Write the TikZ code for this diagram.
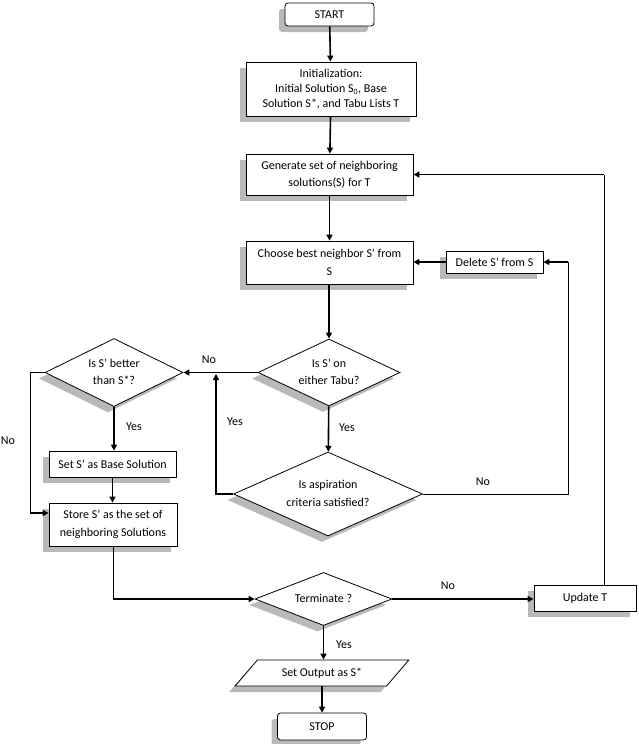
\documentclass[tikz,border=0pt]{standalone}
\usepackage{fontspec}
\setmainfont{Carlito}
\usetikzlibrary{shapes.geometric,shadows,arrows.meta}
\newcommand{\dtext}[1]{\smash{\raisebox{-0.25em}{\makebox[0pt]{\begin{tabular}{@{}c@{}}#1\end{tabular}}}}}
\tikzset{
  base/.style={draw=black, line width=0.8pt, fill=white, inner sep=0pt, align=center,
    font=\fontsize{12}{17.5}\selectfont,
    drop shadow={shadow xshift=-6pt, shadow yshift=-6pt, fill=gray!55, opacity=1}},
  box/.style={base, rectangle},
  rbox/.style={base, rectangle, rounded corners=3pt},
  dec/.style={base, diamond},
  io/.style={base, trapezium, trapezium left angle=37, trapezium right angle=143, trapezium stretches=true},
  arr/.style={line width=1.6pt, -{Triangle[length=6pt,width=6pt]}},
  thinline/.style={line width=0.9pt},
  lbl/.style={font=\fontsize{12}{14}\selectfont, inner sep=0pt},
}
\begin{document}
\begin{tikzpicture}[x=1pt,y=-1pt]
\useasboundingbox (0,0) rectangle (638,744);

\node[rbox, minimum width=89pt, minimum height=23pt] (start) at (329.5,14.5) {START};
\node[box, minimum width=170pt, minimum height=54pt, font=\fontsize{12}{15}\selectfont] (init) at (331,89)
  {Initialization:\\ Initial Solution S\textsubscript{0}, Base\\ Solution S*, and Tabu Lists T};
\node[box, minimum width=167pt, minimum height=41pt] (gen) at (329.5,174.5)
  {Generate set of neighboring\\ solutions(S) for T};
\node[box, minimum width=167pt, minimum height=43pt] (choose) at (329.5,262.5)
  {Choose best neighbor S' from\\ S};
\node[box, minimum width=97pt, minimum height=22pt] (del) at (494.5,262) {Delete S' from S};
\node[dec, minimum width=142pt, minimum height=67pt] (tabu) at (329,372.5) {\dtext{Is S' on\\ either Tabu?}};
\node[dec, minimum width=189pt, minimum height=84pt] (asp) at (328,494) {\dtext{Is aspiration\\ criteria satisfied?}};
\node[dec, minimum width=138pt, minimum height=68pt] (better) at (114,372.5) {\dtext{Is S' better\\ than S*?}};
\node[box, minimum width=127pt, minimum height=26pt] (setbase) at (112.5,464) {Set S' as Base Solution};
\node[box, minimum width=128pt, minimum height=43pt] (store) at (113,524.5)
  {Store S' as the set of\\ neighboring Solutions};
\node[dec, minimum width=137pt, minimum height=53pt] (term) at (323.5,599) {\dtext{Terminate ?}};
\node[box, minimum width=102pt, minimum height=26pt] (upd) at (585,598) {Update T};
\node[io, minimum width=174pt, minimum height=26pt] (out) at (322,673) {Set Output as S*};
\node[rbox, minimum width=89pt, minimum height=27pt] (stop) at (322,726.5) {STOP};

\coordinate (yj) at (216,374);
\coordinate (dj) at (568,262);
\coordinate (sj) at (30,513);
\coordinate (tj) at (113,599);
\coordinate (uj) at (604,174.5);

\draw[arr] (start) -- (init);
\draw[arr] (init) -- (gen);
\draw[arr] (gen) -- (choose);
\draw[arr] (choose.south -| tabu.north) -- (tabu.north);
\draw[arr] (tabu) -- (asp);
\draw[arr] (tabu.west) -- (better.east);
\draw[arr] (asp.west) -| (yj);
\draw[thinline] (asp.east) -| (dj);
\draw[arr] (dj) -- (del.east);
\draw[arr] (del.west) -- (choose.east |- del.west);
\draw[arr] (better.south) -- (better.south |- setbase.north);
\draw[arr] (setbase) -- (setbase.south |- store.north);
\draw[thinline] (better.west) -| (sj);
\draw[arr] (sj) -- (store.west |- sj);
\draw[thinline] (store.south) -- (tj);
\draw[arr] (tj) -- (term.west);
\draw[arr] (term.east) -- (upd.west |- term.east);
\draw[thinline] (uj |- upd.north) -- (uj);
\draw[arr] (uj) -- (gen.east);
\draw[arr] (term.south) -- (term.south |- out.north);
\draw[arr] (out.south) -- (out.south |- stop.north);

\node[lbl] (l1) at (209,360) {No};
\node[lbl] (l2) at (235,422) {Yes};
\node[lbl] (l3) at (347,428) {Yes};
\node[lbl] (l4) at (483,482) {No};
\node[lbl] (l5) at (134,427) {Yes};
\node[lbl] (l6) at (8,441) {No};
\node[lbl] (l7) at (448,586) {No};
\node[lbl] (l8) at (344,645) {Yes};
\end{tikzpicture}
\end{document}
